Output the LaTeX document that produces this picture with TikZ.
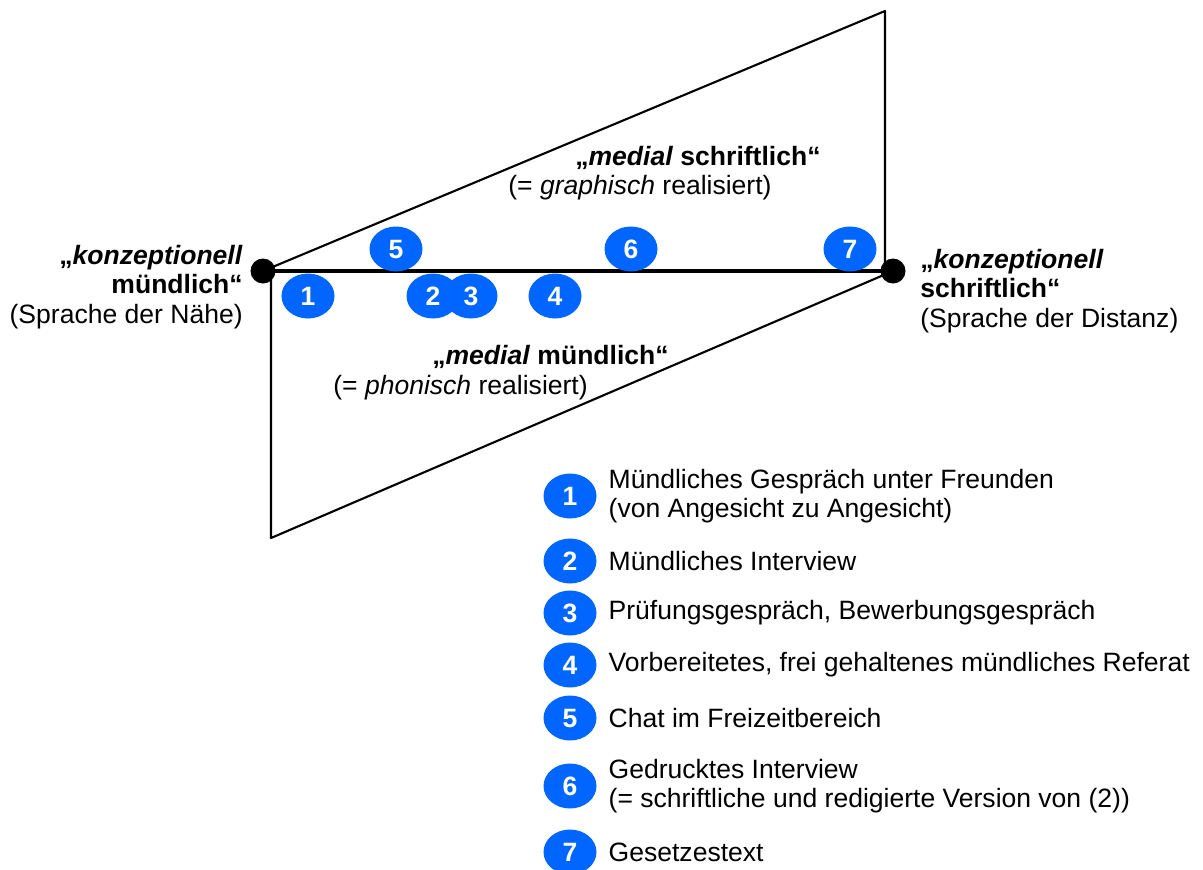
\documentclass[tikz,border=0pt]{standalone}
\usepackage{fontspec}
\setmainfont{Liberation Sans}
\usetikzlibrary{positioning,shapes.geometric}

\definecolor{nrblue}{RGB}{0,102,255}
\newcommand{\diafont}{\fontsize{15.1}{16.8}\selectfont}

\tikzset{
  nr/.style={ellipse, fill=nrblue, text=white, font=\diafont\bfseries,
    minimum width=1.06cm, minimum height=0.9cm, inner sep=0pt},
  dot/.style={circle, fill=black, minimum size=0.5cm, inner sep=0pt},
  lbl/.style={inner sep=0pt},
}

\begin{document}
\begin{tikzpicture}[x=0.02cm, y=-0.02cm, font=\diafont, line join=round, line cap=round]
  \useasboundingbox (0,0) rectangle (1203,869);
  % Pole
  \node[dot] (nah) at (263,271) {};
  \node[dot] (dist) at (893,271) {};
  \coordinate (top) at (885,11);
  \coordinate (topfoot) at (885,271);
  \coordinate (bot) at (271,538);
  \coordinate (botfoot) at (271,271);
  % Flaechen und Achse
  \draw[line width=1.2pt] (nah.center) -- (top) -- (topfoot);
  \draw[line width=1.2pt] (botfoot) -- (bot) -- (dist.center);
  \draw[line width=2.2pt] (nah.center) -- (dist.center);
  % Beispiele
  \node[nr] (p1) at (308,296) {1};
  \node[nr] (p2) at (433,296) {2};
  \node[nr] (p3) at (471,296) {3};
  \node[nr] (p4) at (555,296) {4};
  \node[nr] (p5) at (396,249) {5};
  \node[nr] (p6) at (631,249) {6};
  \node[nr] (p7) at (850,249) {7};
  % Beschriftungen
  \node[lbl, anchor=east, align=right] (nahtext) at (243,287)
    {\textbf{„\textit{konzeptionell}}\\\textbf{mündlich“}\\(Sprache der Nähe)};
  \node[lbl, anchor=west, align=left] (disttext) at (920,291)
    {\textbf{„\textit{konzeptionell}}\\\textbf{schriftlich“}\\(Sprache der Distanz)};
  \node[lbl, anchor=base west] (medS) at (575,165) {\textbf{„\textit{medial} schriftlich“}};
  \node[lbl, anchor=base west] (graph) at (508,194) {(= \textit{graphisch} realisiert)};
  \node[lbl, anchor=base west] (medM) at (432,364) {\textbf{„\textit{medial} mündlich“}};
  \node[lbl, anchor=base west] (phon) at (333,394) {(= \textit{phonisch} realisiert)};
  % Legende
  \foreach \n/\y/\txt in {
      1/496/{Mündliches Gespräch unter Freunden\\(von Angesicht zu Angesicht)},
      2/561/{Mündliches Interview},
      3/613/{Prüfungsgespräch, Bewerbungsgespräch},
      4/665/{Vorbereitetes, frei gehaltenes mündliches Referat},
      5/718/{Chat im Freizeitbereich},
      6/786/{Gedrucktes Interview\\(= schriftliche und redigierte Version von (2))},
      7/852/{Gesetzestext}}{
    \node[nr] (leg\n) at (570,\y) {\n};
    \node[lbl, right=0.23cm of leg\n, align=left] (legtext\n) {\txt};
  }
\end{tikzpicture}
\end{document}
